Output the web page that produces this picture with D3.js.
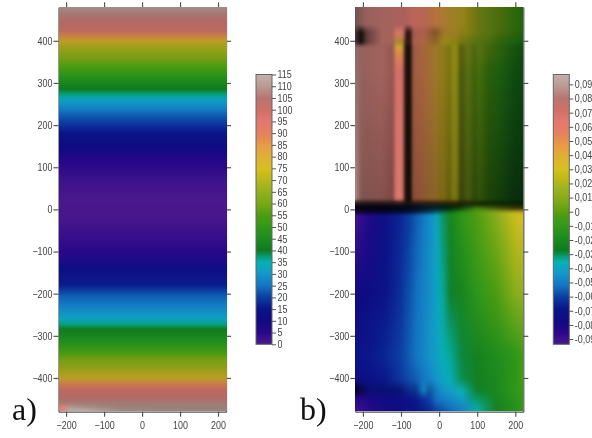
<!DOCTYPE html>
<html>
<head>
<meta charset="utf-8">
<script src="https://cdn.jsdelivr.net/npm/d3@7"></script>
<style>
  html, body { margin: 0; padding: 0; background: #fff; overflow: hidden; }
  #chart { position: relative; width: 592px; height: 438px; overflow: hidden; }
  #chart canvas { position: absolute; }
  #chart svg { position: absolute; left: 0; top: 0; filter: blur(0.3px); }
  .tick text { font-family: "Liberation Sans", Arial, sans-serif; fill: #444; }
</style>
</head>
<body>
<div id="chart"></div>
<script>
// colour map, stops are given on the 0-115 colour bar of panel a
const mapStops = [0, 5, 10, 15, 20, 25, 30, 35, 37, 40, 45, 50, 55, 60, 65, 70, 75, 80, 85, 90, 95, 100, 105, 110, 115];
const mapColors = ['#4a188c', '#28088a', '#100a82', '#0a1488', '#0c3ca2', '#1474c0', '#1496cc', '#06b2b4', '#08a080', '#107a20',
  '#1c8a1e', '#30981a', '#4c9c10', '#78a816', '#94b020', '#b8b818', '#d6c020', '#deb035', '#e89a45', '#e58060',
  '#e27870', '#cf7068', '#b97570', '#b89a94', '#c6b0aa'];

// panel a
const xTicks = [-200, -100, 0, 100, 200];
const yTicks = [400, 300, 200, 100, 0, -100, -200, -300, -400];
const barTicksA = d3.range(0, 116, 5);
const barTicksB = d3.range(-9, 10).map(d => d / 100);

const xsA = [-220, -190, -150, -60, 100, 221];
const ysA = [479, 465, 449, 425, 413, 400, 379, 355, 339, 308, 284, 272, 260, 240, 212, 181, 147, 109, 69, 21,
  -23, -102, -142, -180, -206, -233, -260, -274, -284, -315, -344, -356, -380, -403, -415, -430, -449, -460];
const profileA = [110, 108, 103, 101, 88, 78, 68, 61, 55, 46, 40, 37, 32, 27, 21, 15, 10, 5, 2, 0,
  0.5, 5, 12, 16, 23, 27, 32, 37, 40, 46, 55, 61, 68, 78, 88, 101, 103, 108];
const shadeA = [.9, .88, .92, .92, .88, .86, .88, .92, 1, 1, 1, 1, 1, 1, 1, 1, 1, 1, 1, 1,
  1, 1, 1, 1, 1, 1, 1, 1, 1, 1, 1, .92, .88, .86, .88, .92, .92, .88];
const cornerRowsA = [
  { y: -468, values: [94, 110, 110, 109, 109, 109], shades: [1, .95, .88, .85, .85, .85] },
  { y: -480, values: [93, 116, 115, 110, 110, 110], shades: [1, 1, 1, .9, .85, .85] }
];

// panel b, upper sheet (y >= 10)
const xsUp = [-220, -205, -190, -150, -120, -113, -95, -90, -86, -74, -68, -40, -10, 15, 28, 35, 48, 55, 68, 75, 95, 105, 130, 160, 200, 221];
const valueTop = [.085, .082, .08, .078, .076, .075, .074, .074, .072, .068, .066, .058, .05, .044, .04, .038, .036, .034, .03, .028, .02, .016, .01, .004, -.004, -.01];
const valueSpot = [.085, .082, .08, .078, .076, .068, .068, .074, .072, .068, .066, .058, .05, .044, .04, .038, .036, .034, .03, .028, .02, .016, .01, .004, -.004, -.01];
const valueFade = [.085, .082, .08, .078, .076, .04, .04, .06, .05, .05, .058, .052, .042, .032, .03, .026, .026, .02, .018, .015, .01, .008, .004, -.004, -.014, -.02];
const valueMid = [.085, .082, .08, .078, .076, .05, .05, .06, .05, .05, .058, .052, .042, .032, .03, .026, .026, .02, .018, .015, .01, .008, .004, -.004, -.014, -.02];
const valueStreak = [.087, .082, .08, .078, .075, .066, .066, .06, .05, .05, .056, .052, .042, .032, .03, .025, .025, .015, .012, .01, .004, .002, -.003, -.012, -.02, -.024];
const shadeTop = [.6, .72, .82, .85, .85, .85, .85, .85, .85, .85, .85, .8, .78, .75, .72, .72, .7, .7, .68, .66, .66, .66, .66, .66, .66, .66];
const shadeSpot = [.45, .06, .5, .85, .85, 1, 1, .8, .15, .2, .75, .75, .55, .72, .7, .7, .7, .66, .66, .66, .66, .66, .66, .64, .64, .64];
const shadeSpot2 = [.45, .06, .5, .85, .85, .78, .78, .5, .15, .2, .75, .75, .62, .72, .7, .7, .7, .66, .66, .66, .66, .66, .66, .64, .64, .64];
const shadeMid = [.78, .8, .82, .85, .75, .95, .95, .35, .1, .1, .7, .72, .7, .65, .58, .72, .72, .5, .56, .66, .58, .68, .6, .62, .55, .55];
const shadeLow = [1, .7, .7, .7, .62, 1, 1, .3, .08, .08, .6, .62, .6, .55, .46, .62, .62, .38, .42, .52, .42, .5, .42, .4, .34, .36];
const shadeBandUp = [.22, .2, .2, .2, .2, .2, .2, .16, .12, .12, .18, .2, .2, .2, .2, .2, .2, .2, .22, .24, .26, .26, .26, .26, .26, .26];
const upperRows = [
  { y: 480, values: valueTop, shades: shadeTop },
  { y: 438, values: valueTop, shades: shadeTop },
  { y: 420, values: valueSpot, shades: shadeSpot },
  { y: 395, values: valueFade, shades: shadeSpot2 },
  { y: 385, values: valueFade, shades: shadeMid },
  { y: 372, values: valueMid, shades: shadeMid },
  { y: 330, values: valueStreak, shades: shadeMid },
  { y: 24, values: valueStreak, shades: shadeLow },
  { y: 16, values: valueStreak, shades: shadeBandUp },
  { y: 10, values: valueStreak, shades: shadeBandUp }
];

// panel b, lower sheet (y < 10)
const xsLow = [-220, -205, -180, -140, -100, -75, -60, -40, -25, -5, 10, 30, 60, 100, 150, 200, 221];
const valueNear0 = [-.092, -.088, -.082, -.072, -.065, -.06, -.056, -.051, -.047, -.039, -.031, -.022, -.012, -.002, .01, .027, .033];
const value200 = [-.078, -.077, -.075, -.07, -.063, -.057, -.053, -.049, -.046, -.04, -.034, -.028, -.022, -.012, -.003, .01, .013];
const value350 = [-.07, -.069, -.068, -.065, -.06, -.055, -.052, -.048, -.045, -.041, -.037, -.034, -.029, -.024, -.018, -.012, -.005];
const value405 = [-.075, -.074, -.072, -.068, -.062, -.058, -.056, -.052, -.049, -.044, -.04, -.037, -.03, -.025, -.02, -.012, -.004];
const value430 = [-.08, -.078, -.072, -.07, -.068, -.062, -.06, -.048, -.055, -.05, -.045, -.042, -.036, -.028, -.02, -.012, -.006];
const value450 = [-.085, -.083, -.08, -.076, -.072, -.07, -.068, -.063, -.06, -.052, -.05, -.047, -.042, -.031, -.022, -.014, -.008];
const value478 = [-.09, -.09, -.085, -.08, -.075, -.072, -.07, -.067, -.065, -.06, -.058, -.054, -.05, -.036, -.024, -.016, -.01];
const shadeDark = [.2, .2, .2, .2, .2, .2, .2, .2, .2, .2, .2, .2, .22, .28, .25, .22, .22];
const shadeBand1 = [.14, .14, .14, .14, .14, .14, .15, .16, .18, .2, .22, .28, .45, .85, .5, .24, .24];
const shadeBand2 = [.35, .35, .35, .35, .35, .35, .38, .45, .5, .6, .72, .85, .95, 1, 1, .95, .9];
const shadeFull = xsLow.map(() => 1);
const shadeBlack = [.06, .55, .85, .82, .8, .9, .82, 1, .85, 1, 1, 1, 1, 1, 1, 1, 1];
const lowerRows = [
  { y: 10, values: valueNear0, shades: shadeDark },
  { y: 2, values: valueNear0, shades: shadeBand1 },
  { y: -8, values: valueNear0, shades: shadeBand2 },
  { y: -15, values: valueNear0, shades: shadeFull },
  { y: -200, values: value200, shades: shadeFull },
  { y: -350, values: value350, shades: shadeFull },
  { y: -405, values: value405, shades: shadeFull },
  { y: -430, values: value430, shades: shadeBlack },
  { y: -450, values: value450, shades: shadeFull },
  { y: -480, values: value478, shades: shadeFull }
];

const plotH = [7.3, 411.7];
const xDomain = [-220, 221];
const yDomain = [479.5, -480];
const barRange = [344.3, 74.5];

const colorA = d3.scaleLinear().domain(mapStops).range(mapColors).clamp(true);
const bToA = d3.scaleLinear().domain([-0.0937, 0.097]).range([0, 115]);
const colorB = v => colorA(bToA(v));

const root = d3.select('#chart');
const svg = root.append('svg').attr('width', 592).attr('height', 438);

function makeSheet(xs, rows, color) {
  const nodes = rows.map(r => r.values.map((v, i) => {
    const c = d3.rgb(color(v));
    const s = r.shades ? r.shades[i] : 1;
    return [c.r * s, c.g * s, c.b * s];
  }));
  return { xs, ys: rows.map(r => -r.y), nodes };
}

function cell(list, v) {
  const i = Math.min(list.length - 2, Math.max(0, d3.bisectRight(list, v) - 1));
  const t = Math.max(0, Math.min(1, (v - list[i]) / (list[i + 1] - list[i])));
  return [i, t];
}

// paint the colour sheets pixel by pixel, sheets[0] is used above splitY
function paint(left, right, sheets, splitY, blur) {
  const x = d3.scaleLinear().domain(xDomain).range([left, right]);
  const y = d3.scaleLinear().domain(yDomain).range(plotH);
  const w = Math.round(right - left), h = Math.round(plotH[1] - plotH[0]);
  const canvas = root.append('canvas')
    .attr('width', w).attr('height', h)
    .style('left', left + 'px').style('top', plotH[0] + 'px');
  const ctx = canvas.node().getContext('2d');
  const img = ctx.createImageData(w, h);
  for (let py = 0; py < h; py++) {
    const vy = y.invert(plotH[0] + py + 0.5);
    const sheet = sheets.length > 1 && vy < splitY ? sheets[1] : sheets[0];
    const [j, ty] = cell(sheet.ys, -vy);
    for (let px = 0; px < w; px++) {
      const [i, tx] = cell(sheet.xs, x.invert(left + px + 0.5));
      const o = (py * w + px) * 4;
      for (let k = 0; k < 3; k++) {
        const a = sheet.nodes[j][i][k] * (1 - tx) + sheet.nodes[j][i + 1][k] * tx;
        const b = sheet.nodes[j + 1][i][k] * (1 - tx) + sheet.nodes[j + 1][i + 1][k] * tx;
        img.data[o + k] = a * (1 - ty) + b * ty;
      }
      img.data[o + 3] = 255;
    }
  }
  ctx.putImageData(img, 0, 0);
  const copy = document.createElement('canvas');
  copy.width = w; copy.height = h;
  copy.getContext('2d').putImageData(img, 0, 0);
  ctx.filter = `blur(${blur}px)`;
  ctx.drawImage(copy, 0, 0);
  ctx.filter = 'none';
}

function squeezeLabels(g, dx) {
  // tick labels in the picture are narrower than the font
  g.selectAll('text')
    .attr('font-size', 10.5)
    .attr('transform', 'scale(0.85,1)')
    .attr('x', dx === undefined ? null : dx / 0.85);
}

function frame(left, right) {
  const x = d3.scaleLinear().domain(xDomain).range([left, right]);
  const y = d3.scaleLinear().domain(yDomain).range(plotH);
  const g = svg.append('g');
  const style = s => s.call(a => a.selectAll('path,line').attr('stroke', '#555').attr('stroke-width', 1.2));
  g.append('g').attr('transform', `translate(0,${plotH[1]})`)
    .call(d3.axisBottom(x).tickValues(xTicks).tickSize(5).tickPadding(3).tickSizeOuter(0))
    .call(style).call(squeezeLabels).call(s => s.selectAll('text').attr('dy', '0.85em'));
  g.append('g').attr('transform', `translate(0,${plotH[0]})`)
    .call(d3.axisTop(x).tickValues(xTicks).tickSize(5).tickFormat('').tickSizeOuter(0))
    .call(style);
  g.append('g').attr('transform', `translate(${left},0)`)
    .call(d3.axisLeft(y).tickValues(yTicks).tickSize(5).tickSizeOuter(0))
    .call(style).call(s => squeezeLabels(s, -6));
  g.append('g').attr('transform', `translate(${right},0)`)
    .call(d3.axisRight(y).tickValues(yTicks).tickSize(5).tickFormat('').tickSizeOuter(0))
    .call(style);
}

function colorBar(id, left, width, domain, ticks, format, color) {
  const scale = d3.scaleLinear().domain(domain).range(barRange);
  const grad = svg.append('defs').append('linearGradient').attr('id', id)
    .attr('x1', 0).attr('x2', 0).attr('y1', 1).attr('y2', 0);
  const toFrac = d3.scaleLinear().domain([0, 115]).range([0, 1]);
  mapStops.forEach((s, i) => {
    grad.append('stop').attr('offset', toFrac(s)).attr('stop-color', mapColors[i]);
  });
  svg.append('rect').attr('x', left).attr('y', barRange[1])
    .attr('width', width).attr('height', barRange[0] - barRange[1])
    .attr('fill', `url(#${id})`).attr('stroke', '#666').attr('stroke-width', 1);
  svg.append('g').attr('transform', `translate(${left + width},0)`)
    .call(d3.axisRight(scale).tickValues(ticks).tickFormat(format).tickSize(4).tickSizeOuter(0))
    .call(s => s.select('.domain').remove())
    .call(s => s.selectAll('line').attr('stroke', '#555'))
    .call(s => squeezeLabels(s, 5.5));
}

// panel a
const rowsA = ysA.map((yv, i) => ({ y: yv, values: xsA.map(() => profileA[i]), shades: xsA.map(() => shadeA[i]) })).concat(cornerRowsA);
paint(58.5, 226, [makeSheet(xsA, rowsA, colorA)], null, 1);
frame(58.5, 226);
colorBar('barA', 256, 16, [0, 115], barTicksA, d => d, colorA);

// panel b
paint(355.3, 523.3, [makeSheet(xsUp, upperRows, colorB), makeSheet(xsLow, lowerRows, colorB)], 10, 1.4);
frame(355.3, 523.3);
colorBar('barB', 553.3, 16, [-0.0937, 0.097], barTicksB, d => String(+d.toFixed(2)).replace('.', ','), colorB);

// panel letters
[['a)', 12], ['b)', 300]].forEach(([t, x]) => {
  svg.append('text').attr('x', x).attr('y', 420).text(t)
    .attr('font-family', '"Liberation Serif", "Times New Roman", serif')
    .attr('font-size', 32).attr('fill', '#111');
});
</script>
</body>
</html>
